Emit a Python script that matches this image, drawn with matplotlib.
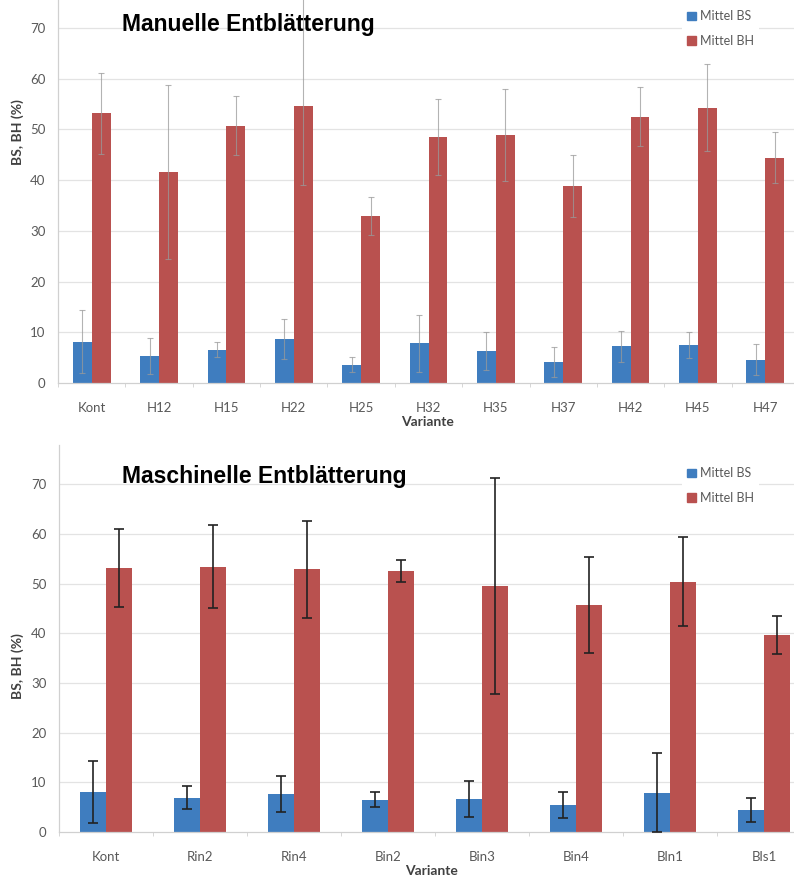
import matplotlib.pyplot as plt
from matplotlib.patches import Patch
import numpy as np


# =========================
# Daten
# =========================

manual_cats = ["Kont", "H12", "H15", "H22", "H25", "H32", "H35", "H37", "H42", "H45", "H47"]
manual_bs = [8.1, 5.3, 6.6, 8.7, 3.6, 7.8, 6.25, 4.1, 7.2, 7.5, 4.6]
manual_bs_err = [6.2, 3.6, 1.5, 3.9, 1.5, 5.6, 3.75, 3.0, 3.0, 2.5, 3.1]
manual_bh = [53.2, 41.6, 50.7, 54.7, 32.9, 48.5, 48.9, 38.8, 52.5, 54.3, 44.4]
manual_bh_err_lo = [8.0, 17.2, 5.8, 15.6, 3.8, 7.4, 9.1, 6.1, 5.8, 8.5, 5.0]
manual_bh_err_hi = [8.0, 17.2, 5.8, 22.0, 3.8, 7.4, 9.1, 6.1, 5.8, 8.5, 5.0]

machine_cats = ["Kont", "Rin2", "Rin4", "Bin2", "Bin3", "Bin4", "Bln1", "Bls1"]
machine_bs = [8.05, 6.9, 7.7, 6.5, 6.65, 5.4, 7.9, 4.4]
machine_bs_err = [6.2, 2.3, 3.6, 1.5, 3.6, 2.6, 8.0, 2.4]
machine_bh = [53.1, 53.4, 52.9, 52.6, 49.5, 45.7, 50.4, 39.6]
machine_bh_err = [7.9, 8.4, 9.8, 2.2, 21.7, 9.7, 9.0, 3.85]

BLUE = "#3f7dbf"
RED = "#b9514f"
TICK_GREY = "#595959"
GRID_GREY = "#e3e3e3"
AXIS_GREY = "#d0d0d0"

plt.rcParams["font.family"] = ["Lato", "DejaVu Sans"]

W, H = 794, 877
fig = plt.figure(figsize=(W / 100, H / 100), dpi=100)


def px_box(left, bottom_px, right, top_px):
    """Pixelkoordinaten (y von oben) -> fig-Bruchteile"""
    return [left / W, 1 - bottom_px / H, (right - left) / W, (bottom_px - top_px) / H]


def draw_panel(ax, cats, bs, bs_err, bh, bh_err, ymax, err_style,
               title, title_y, xlabel_x, ylabel_y, legend_top):
    x = np.arange(len(cats))
    w = 0.28
    ax.bar(x - w / 2, bs, width=w, color=BLUE, zorder=2)
    ax.bar(x + w / 2, bh, width=w, color=RED, zorder=2)
    ax.errorbar(x - w / 2, bs, yerr=bs_err, fmt="none", zorder=3, **err_style)
    ax.errorbar(x + w / 2, bh, yerr=bh_err, fmt="none", zorder=3, **err_style)

    ax.set_xlim(-0.5, len(cats) - 0.5)
    ax.set_ylim(0, ymax)
    ax.set_yticks(range(0, 80, 10))
    ax.set_xticks(x)
    ax.set_xticklabels(cats)
    ax.set_xticks(np.arange(len(cats) + 1) - 0.5, minor=True)
    ax.tick_params(axis="y", length=0, pad=9, labelsize=9.5, labelcolor=TICK_GREY)
    ax.tick_params(axis="x", which="major", length=0, pad=14, labelsize=9.5,
                   labelcolor=TICK_GREY)
    ax.tick_params(axis="x", which="minor", length=3, color=AXIS_GREY, direction="out")

    for yv in range(10, 80, 10):
        ax.axhline(yv, color=GRID_GREY, lw=0.9, zorder=0)

    for s in ["top", "right"]:
        ax.spines[s].set_visible(False)
    ax.spines["left"].set_color(AXIS_GREY)
    ax.spines["bottom"].set_color(AXIS_GREY)
    ax.spines["left"].set_linewidth(0.9)
    ax.spines["bottom"].set_linewidth(0.9)

    ax.set_ylabel("BS, BH (%)", fontsize=10, fontweight="bold", color="#404040")
    ax.yaxis.set_label_coords(-0.046, ylabel_y)
    ax.set_xlabel("Variante", fontsize=10, fontweight="bold", color="#404040")
    ax.xaxis.set_label_coords(xlabel_x, -0.085)

    fig.text(122 / W, 1 - title_y / H, title, family="Liberation Sans",
             fontsize=16.5, fontweight="bold", va="center", ha="left")

    handles = [Patch(color=BLUE, label="Mittel BS"), Patch(color=RED, label="Mittel BH")]
    leg = ax.legend(handles=handles, loc="upper left",
                    bbox_to_anchor=(676 / W, 1 - legend_top / H),
                    bbox_transform=fig.transFigure, fontsize=9,
                    handlelength=0.7, handleheight=0.7, handletextpad=0.3,
                    labelspacing=1.0, borderpad=0.4, frameon=True,
                    facecolor="white", edgecolor="none", framealpha=1.0,
                    fancybox=False)
    for t in leg.get_texts():
        t.set_color(TICK_GREY)


# Oben: manuelle Entblätterung
ax1 = fig.add_axes(px_box(58, 383, 799, 0))
manual_style = dict(ecolor="#9a9a9a", elinewidth=0.8, capsize=2.5, capthick=0.8, alpha=0.75)
draw_panel(ax1, manual_cats, manual_bs, manual_bs_err, manual_bh,
           [manual_bh_err_lo, manual_bh_err_hi], 75.5, manual_style,
           "Manuelle Entblätterung", 24, 0.498, 0.655, -1)

# Unten: maschinelle Entblätterung
ax2 = fig.add_axes(px_box(59, 832, 811, 445))
machine_style = dict(ecolor="#222222", elinewidth=1.2, capsize=3.5, capthick=1.2)
draw_panel(ax2, machine_cats, machine_bs, machine_bs_err, machine_bh,
           machine_bh_err, 77.9, machine_style,
           "Maschinelle Entblätterung", 476, 0.495, 0.429, 456)

fig.savefig("out.png", dpi=100)
plt.close(fig)
